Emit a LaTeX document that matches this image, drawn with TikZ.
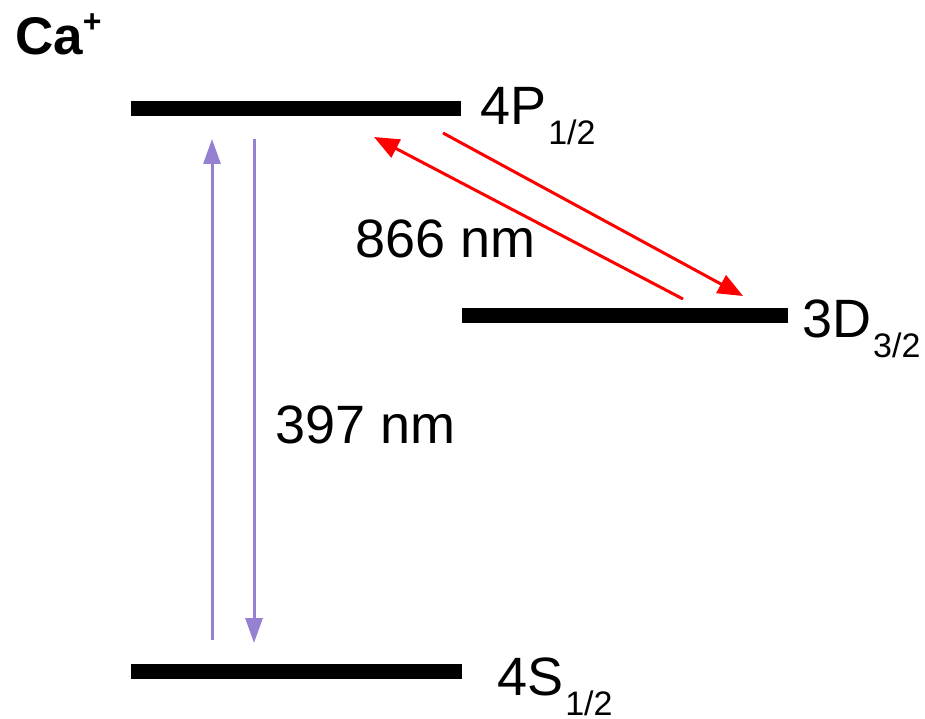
\documentclass[tikz,border=0pt]{standalone}
\usepackage{fontspec}
\setmainfont{Liberation Sans}
\usetikzlibrary{arrows.meta}
\definecolor{violetline}{RGB}{150,128,210}
\definecolor{redline}{RGB}{255,0,0}
\tikzset{
  level/.style={line width=15pt, line cap=butt, black},
  lbl/.style={inner sep=0pt, anchor=base west, font=\fontsize{54}{54}\selectfont},
  uvarrow/.style={line width=3pt, violetline, -{Triangle[length=25pt,width=17pt]}},
  irarrow/.style={line width=3pt, redline, -{Triangle[length=25pt,width=20pt]}},
}
\newcommand{\subs}[1]{\hspace{2pt}\raisebox{-20pt}[0pt][0pt]{\fontsize{34}{34}\selectfont #1}}
\begin{document}
\begin{tikzpicture}[x=1pt,y=-1pt]
\useasboundingbox (0,0) rectangle (925,719);
% levels
\coordinate (pL) at (131,109); \coordinate (pR) at (461,109);
\coordinate (dL) at (462,315); \coordinate (dR) at (788,315);
\coordinate (sL) at (131,671); \coordinate (sR) at (462,671);
\draw[level] (pL) -- (pR);
\draw[level] (dL) -- (dR);
\draw[level] (sL) -- (sR);
% labels
\node[lbl, font=\fontsize{53}{53}\selectfont\bfseries] (ca) at (15,55) {Ca\raisebox{22pt}{\fontsize{32}{32}\selectfont\bfseries +}};
\node[lbl] (p) at (480,125) {4P\subs{1/2}};
\node[lbl] (d) at (802,337) {3D\subs{3/2}};
\node[lbl] (s) at (497,695) {4S\subs{1/2}};
\node[lbl] (ir) at (355,257) {866 nm};
\node[lbl] (uv) at (275,443) {397 nm};
% 397 nm arrows
\coordinate (uvUpA) at (212,640); \coordinate (uvUpB) at (212,139);
\coordinate (uvDnA) at (254,139); \coordinate (uvDnB) at (254,643);
\draw[uvarrow] (uvUpA) -- (uvUpB);
\draw[uvarrow] (uvDnA) -- (uvDnB);
% 866 nm arrows
\coordinate (irA) at (683,299); \coordinate (irB) at (374,137);
\coordinate (irC) at (443,133); \coordinate (irD) at (743,296);
\draw[irarrow] (irA) -- (irB);
\draw[irarrow] (irC) -- (irD);
\end{tikzpicture}
\end{document}
